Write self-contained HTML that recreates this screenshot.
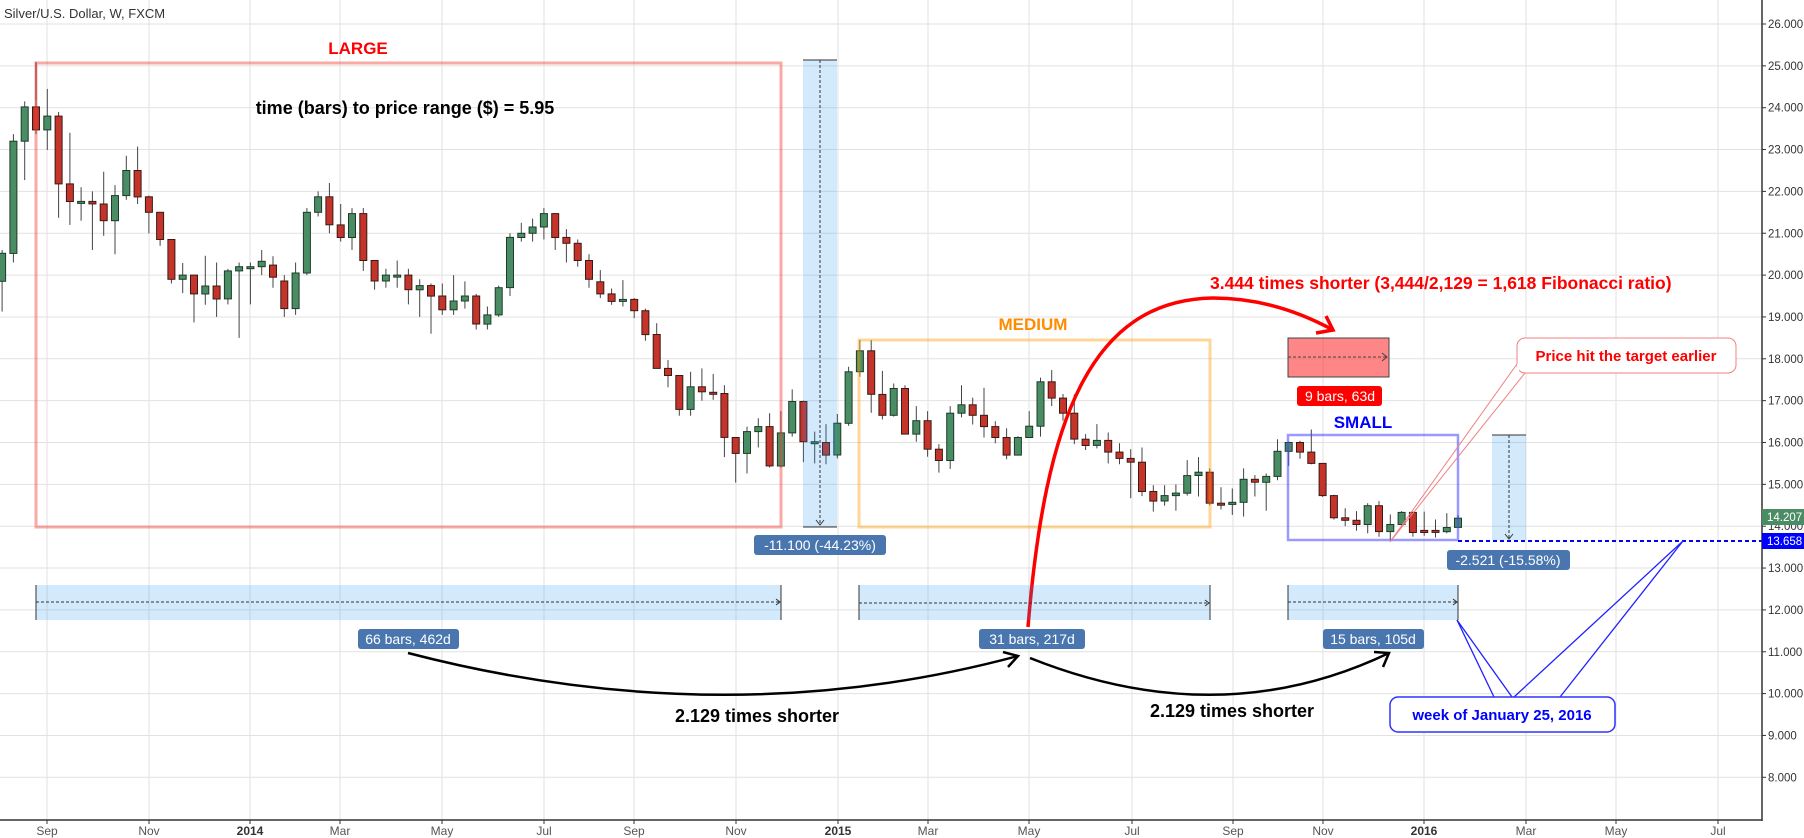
<!DOCTYPE html>
<html><head><meta charset="utf-8"><style>
html,body{margin:0;padding:0;background:#fff;}
svg{display:block;font-family:"Liberation Sans",Arial,sans-serif;}
</style></head><body>
<svg id="s" width="1804" height="838" viewBox="0 0 1804 838" xmlns="http://www.w3.org/2000/svg">
<rect width="1804" height="838" fill="#fff"/>
<g id="grid" stroke="#e2e2e2" stroke-width="1"></g>
<g id="candles"></g>
<g id="ann">
<rect x="36" y="63" width="745" height="464" fill="none" stroke="rgba(244,67,54,0.45)" stroke-width="3"/>
<line x1="36" y1="63" x2="36" y2="100" stroke="#8b2020" stroke-width="1"/>
<text x="358" y="54" fill="#ff0000" font-size="17" font-weight="bold" text-anchor="middle">LARGE</text>
<text x="405" y="114" fill="#000" font-size="18" font-weight="bold" text-anchor="middle">time (bars) to price range ($) = 5.95</text>
<rect x="803" y="60" width="34" height="467" fill="rgba(33,150,243,0.2)"/>
<line x1="803" y1="60" x2="837" y2="60" stroke="#333" stroke-width="1"/>
<line x1="803" y1="527" x2="837" y2="527" stroke="#333" stroke-width="1"/>
<line x1="820" y1="60" x2="820" y2="524" stroke="#333" stroke-width="1" stroke-dasharray="3,2"/>
<path d="M816,520 L820,525 L824,520" fill="none" stroke="#333" stroke-width="1"/>
<rect x="754" y="535" width="132" height="20" rx="3" fill="#4a76b0"/>
<text x="820" y="550" fill="#fff" font-size="14" text-anchor="middle">-11.100 (-44.23%)</text>
<rect x="859" y="340" width="351" height="187" fill="none" stroke="rgba(255,152,0,0.4)" stroke-width="3"/>
<text x="1033" y="330" fill="#ff8c00" font-size="17" font-weight="bold" text-anchor="middle">MEDIUM</text>
<rect x="1288" y="435" width="170" height="105" fill="none" stroke="rgba(70,70,255,0.55)" stroke-width="2.5"/>
<text x="1363" y="428" fill="#0000ff" font-size="17" font-weight="bold" text-anchor="middle">SMALL</text>
<rect x="1288" y="338" width="101" height="39" fill="rgba(255,60,60,0.62)" stroke="#444" stroke-width="1"/>
<line x1="1288" y1="357" x2="1386" y2="357" stroke="#444" stroke-width="1" stroke-dasharray="3,2"/>
<path d="M1382,353 L1387,357 L1382,361" fill="none" stroke="#444" stroke-width="1"/>
<rect x="1297" y="386" width="85" height="20" rx="3" fill="#ff0000"/>
<text x="1340" y="401" fill="#fff" font-size="14" text-anchor="middle">9 bars, 63d</text>
<rect x="1492" y="435" width="34" height="105" fill="rgba(33,150,243,0.2)"/>
<line x1="1492" y1="435" x2="1526" y2="435" stroke="#333" stroke-width="1"/>
<line x1="1509" y1="435" x2="1509" y2="538" stroke="#333" stroke-width="1" stroke-dasharray="3,2"/>
<path d="M1505,534 L1509,539 L1513,534" fill="none" stroke="#333" stroke-width="1"/>
<rect x="1447" y="550" width="123" height="20" rx="3" fill="#4a76b0"/>
<text x="1508" y="565" fill="#fff" font-size="14" text-anchor="middle">-2.521 (-15.58%)</text>
<line x1="1458" y1="541" x2="1762" y2="541" stroke="#0000ff" stroke-width="2" stroke-dasharray="4,3"/>
<path d="M1028,627 C1045,420 1090,300 1213,298 C1260,298 1300,312 1333,330" fill="none" stroke="#ff0000" stroke-width="3.5"/>
<path d="M1316,333 L1333,330 L1326,316" fill="none" stroke="#ff0000" stroke-width="3.5"/>
<text x="1210" y="289" fill="#ff0000" font-size="17.5" font-weight="bold">3.444 times shorter (3,444/2,129 = 1,618 Fibonacci ratio)</text>
<path d="M1390,542 L1517,364 L1525,373 Z" fill="none" stroke="#f08080" stroke-width="1"/>
<rect x="1517" y="338" width="219" height="35" rx="8" fill="#fff" stroke="#f08080" stroke-width="1"/>
<line x1="1518" y1="364" x2="1518" y2="372" stroke="#fff" stroke-width="2"/>
<text x="1626" y="361" fill="#ff0000" font-size="15" font-weight="bold" text-anchor="middle">Price hit the target earlier</text>
<rect x="36" y="585" width="745" height="35" fill="rgba(33,150,243,0.2)"/>
<rect x="859" y="585" width="351" height="35" fill="rgba(33,150,243,0.2)"/>
<rect x="1288" y="585" width="170" height="35" fill="rgba(33,150,243,0.2)"/>
<g stroke="#333" stroke-width="1">
<line x1="36" y1="585" x2="36" y2="620"/><line x1="781" y1="585" x2="781" y2="620"/>
<line x1="859" y1="585" x2="859" y2="620"/><line x1="1210" y1="585" x2="1210" y2="620"/>
<line x1="1288" y1="585" x2="1288" y2="620"/><line x1="1458" y1="585" x2="1458" y2="620"/>
</g>
<g stroke="#333" stroke-width="1" stroke-dasharray="3,2">
<line x1="36" y1="602" x2="780" y2="602"/><line x1="859" y1="603" x2="1209" y2="603"/><line x1="1288" y1="602" x2="1457" y2="602"/>
</g>
<g fill="none" stroke="#333" stroke-width="1">
<path d="M776,599 L780,602 L776,605"/><path d="M1205,600 L1209,603 L1205,606"/><path d="M1453,599 L1457,602 L1453,605"/>
</g>
<rect x="358" y="629" width="101" height="20" rx="3" fill="#4a76b0"/>
<text x="408" y="644" fill="#fff" font-size="14" text-anchor="middle">66 bars, 462d</text>
<rect x="979" y="629" width="106" height="20" rx="3" fill="#4a76b0"/>
<text x="1032" y="644" fill="#fff" font-size="14" text-anchor="middle">31 bars, 217d</text>
<rect x="1323" y="629" width="101" height="20" rx="3" fill="#4a76b0"/>
<text x="1373" y="644" fill="#fff" font-size="14" text-anchor="middle">15 bars, 105d</text>
<path d="M408,653 Q724,735 1018,656" fill="none" stroke="#000" stroke-width="2.5"/>
<path d="M1003,652 L1018,656 L1008,667" fill="none" stroke="#000" stroke-width="2.5"/>
<path d="M1030,658 Q1220,734 1389,653" fill="none" stroke="#000" stroke-width="2.5"/>
<path d="M1374,652 L1389,653 L1383,667" fill="none" stroke="#000" stroke-width="2.5"/>
<text x="757" y="722" fill="#000" font-size="18" font-weight="bold" text-anchor="middle">2.129 times shorter</text>
<text x="1232" y="717" fill="#000" font-size="18" font-weight="bold" text-anchor="middle">2.129 times shorter</text>
<g stroke="#2020ff" stroke-width="1.3" fill="none">
<path d="M1457,620 L1494,697"/><path d="M1457,620 L1512,697"/>
<path d="M1514,697 L1683,541"/><path d="M1560,697 L1683,541"/>
</g>
<rect x="1390" y="697" width="225" height="35" rx="8" fill="#fff" stroke="#3030ff" stroke-width="1.5"/>
<text x="1502" y="720" fill="#0000ff" font-size="15" font-weight="bold" text-anchor="middle">week of January 25, 2016</text>
</g>
<g id="axes"></g>
<text x="4" y="18" fill="#333" font-size="13">Silver/U.S. Dollar, W, FXCM</text>
</svg>
<script>
(function(){
var NS="http://www.w3.org/2000/svg";
function Y(p){return 24+(26-p)*41.85;}
function el(tag,attrs,parent,txt){var e=document.createElementNS(NS,tag);for(var k in attrs)e.setAttribute(k,attrs[k]);if(txt!=null)e.textContent=txt;parent.appendChild(e);return e;}
var grid=document.getElementById('grid'),ax=document.getElementById('axes'),cg=document.getElementById('candles');
var vx=[47,149,250,340,442,544,634,736,838,928,1029,1132,1233,1323,1424,1526,1616,1718];
var vl=["Sep","Nov","2014","Mar","May","Jul","Sep","Nov","2015","Mar","May","Jul","Sep","Nov","2016","Mar","May","Jul"];
vx.forEach(function(x){el('line',{x1:x,y1:0,x2:x,y2:820},grid);});
for(var p=8;p<=26;p++){el('line',{x1:0,y1:Y(p),x2:1762,y2:Y(p)},grid);}
el('line',{x1:1762,y1:0,x2:1762,y2:821,stroke:"#333","stroke-width":1.5},ax);
el('line',{x1:0,y1:820,x2:1762,y2:820,stroke:"#333","stroke-width":1.5},ax);
for(var p=8;p<=26;p++){var y=Y(p);el('line',{x1:1762,y1:y,x2:1766,y2:y,stroke:"#333"},ax);
 el('text',{x:1768,y:y+4,"font-size":11.5,fill:"#333"},ax,p.toFixed(3));}
vx.forEach(function(x,i){el('line',{x1:x,y1:820,x2:x,y2:824,stroke:"#333"},ax);
 var b=/^\d/.test(vl[i]);el('text',{x:x,y:835,"font-size":12,fill:b?"#333":"#555","font-weight":b?"bold":"normal","text-anchor":"middle"},ax,vl[i]);});
el('rect',{x:1762,y:509,width:42,height:16,fill:"#4a8c63"},ax);
el('text',{x:1767,y:521,"font-size":11.5,fill:"#fff"},ax,"14.207");
el('rect',{x:1762,y:533,width:42,height:16,fill:"#0000ff"},ax);
el('text',{x:1767,y:545,"font-size":11.5,fill:"#fff"},ax,"13.658");
var D=[
[19.85,20.52,20.6,19.13],[20.52,23.2,23.37,20.3],[23.2,24.02,24.15,22.27],[24.02,23.47,25.1,23.37],[23.47,23.8,24.45,22.99],
[23.8,22.18,23.9,21.37],[22.18,21.76,23.4,21.2],[21.76,21.76,22.1,21.3],[21.76,21.7,22.0,20.6],[21.7,21.3,22.47,20.94],
[21.3,21.9,22.15,20.5],[21.9,22.5,22.85,21.8],[22.5,21.87,23.07,21.7],[21.87,21.5,21.9,21.0],[21.5,20.85,21.5,20.7],
[20.85,19.9,20.85,19.8],[19.9,20.0,20.29,19.57],[20.0,19.55,20.0,18.87],[19.55,19.74,20.46,19.29],[19.74,19.43,20.3,19.0],
[19.43,20.1,20.15,19.3],[20.1,20.2,20.3,18.5],[20.2,20.2,20.3,19.3],[20.2,20.33,20.6,20.0],[20.24,19.95,20.45,19.7],
[19.86,19.2,20.0,19.0],[19.2,20.05,20.3,19.05],[20.05,21.5,21.6,20.0],[21.5,21.87,22.0,21.4],[21.87,21.2,22.2,21.0],
[21.2,20.9,21.7,20.8],[20.9,21.47,21.6,20.6],[21.47,20.35,21.6,20.1],[20.35,19.86,20.35,19.65],[19.86,20.0,20.15,19.7],
[20.0,20.0,20.35,19.7],[20.0,19.65,20.15,19.3],[19.65,19.75,19.9,19.0],[19.75,19.5,19.8,18.6],[19.5,19.17,19.8,19.05],
[19.17,19.38,20.0,19.05],[19.38,19.5,19.85,19.2],[19.5,18.83,19.55,18.7],[18.83,19.05,19.25,18.7],[19.05,19.7,19.75,19.0],
[19.7,20.9,21.0,19.5],[20.9,21.0,21.25,20.8],[21.0,21.15,21.35,20.8],[21.15,21.47,21.6,20.85],[21.47,20.9,21.47,20.6],
[20.9,20.76,21.1,20.3],[20.76,20.35,20.85,20.2],[20.35,19.9,20.5,19.7],
[19.84,19.55,20.12,19.45],[19.55,19.37,19.68,19.29],[19.4,19.42,19.88,19.25],[19.42,19.15,19.45,18.97],[19.15,18.58,19.2,18.43],
[18.58,17.77,18.85,17.77],[17.77,17.6,17.97,17.32],[17.6,16.79,17.6,16.64],[16.79,17.33,17.69,16.64],[17.33,17.21,17.77,17.0],
[17.2,17.17,17.64,17.02],[17.17,16.12,17.37,15.65],[16.12,15.74,16.12,15.04],[15.74,16.26,16.38,15.26],[16.26,16.38,16.58,15.88],
[16.38,15.44,16.7,15.4],[15.44,16.23,16.75,15.4],[16.23,16.98,17.27,16.14],[16.98,16.02,17.0,15.53],[16.02,16.02,16.26,15.5],
[16.0,15.7,16.44,15.48],[15.7,16.46,16.68,15.62],[16.46,17.69,17.81,16.4],[17.69,18.19,18.45,17.57],[18.19,17.15,18.45,16.71],
[17.15,16.65,17.71,16.55],[16.65,17.29,17.41,16.62],[17.29,16.2,17.37,16.2],[16.2,16.52,16.87,16.02],[16.52,15.84,16.75,15.66],
[15.84,15.57,15.96,15.28],[15.57,16.7,16.87,15.37],[16.7,16.9,17.37,16.6],[16.9,16.65,17.07,16.43],[16.65,16.38,17.31,16.12],
[16.38,16.12,16.51,15.98],[16.12,15.7,16.34,15.6],[15.7,16.12,16.15,15.69],[16.12,16.39,16.75,16.12],[16.39,17.45,17.55,16.14],
[17.45,17.06,17.73,16.87],[17.06,16.7,17.16,16.52],[16.7,16.08,17.15,15.96],[16.08,15.93,16.2,15.82],[15.93,16.05,16.44,15.86],
[16.05,15.77,16.24,15.5],[15.77,15.62,15.98,15.48],[15.62,15.53,15.84,14.67],[15.53,14.83,15.88,14.72],[14.83,14.6,14.98,14.35],
[14.6,14.73,14.98,14.49],[14.73,14.79,15.0,14.37],[14.79,15.21,15.58,14.73],[15.21,15.29,15.65,14.71],[15.29,14.55,15.38,14.5],
[14.55,14.52,14.93,14.4],[14.52,14.57,14.9,14.27],[14.57,15.12,15.38,14.23],[15.12,15.05,15.22,14.71],[15.05,15.19,15.26,14.37],
[15.19,15.79,16.08,15.1],[15.79,16.0,16.02,15.44],[16.0,15.77,16.04,15.61],[15.77,15.5,16.31,15.48],[15.5,14.73,15.5,14.7],
[14.73,14.2,14.75,14.16],[14.2,14.14,14.43,14.0],[14.14,14.04,14.36,13.89],[14.04,14.49,14.55,13.83],[14.49,13.87,14.6,13.75],
[13.87,14.04,14.28,13.67],[14.04,14.33,14.36,14.02],[14.33,13.85,14.35,13.75],[13.9,13.85,14.35,13.77],[13.9,13.87,14.16,13.73],
[13.87,13.97,14.31,13.83],[13.97,14.19,14.26,13.97]];
D.forEach(function(d,j){var i=j-3;var x=36+i*11.286;var o=d[0],c=d[1],h=d[2],l=d[3];
 var up=c>=o;var fill=up?"#4a8c63":"#c4342a";var st=up?"#1d3b28":"#3a1a14";
 el('line',{x1:x.toFixed(1),y1:Y(h).toFixed(1),x2:x.toFixed(1),y2:Y(l).toFixed(1),stroke:"#444","stroke-width":1},cg);
 var t=Y(Math.max(o,c)),b=Y(Math.min(o,c));if(b-t<2){b=t+2;}
 el('rect',{x:(x-3.5).toFixed(1),y:t.toFixed(1),width:7,height:(b-t).toFixed(1),fill:fill,stroke:st,"stroke-width":1},cg);});
})();
</script>
</body></html>
